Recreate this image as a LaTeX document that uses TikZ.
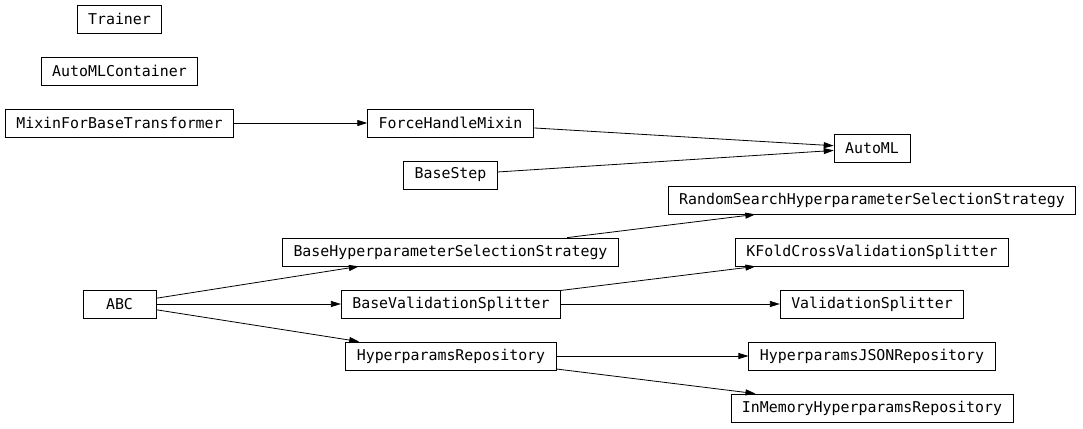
\documentclass[tikz,border=0pt]{standalone}
\usepackage{fontspec}
\setmonofont{DejaVu Sans Mono}
\usetikzlibrary{arrows.meta}

\tikzset{
	cls/.style={draw, line width=0.8pt, inner xsep=11pt, inner ysep=0pt, minimum height=28pt, font=\fontsize{14.9}{16}\ttfamily},
	inh/.style={line width=0.8pt, -{Triangle[length=10pt,width=6pt]}}
}

\begin{document}
\begin{tikzpicture}[x=1pt,y=-1pt]
	\useasboundingbox (0,0) rectangle (1083,428);
	\node[cls] (trainer) at (119.5,19) {Trainer};
	\node[cls] (container) at (119.5,71) {AutoMLContainer};
	\node[cls] (mixin) at (119.5,123) {MixinForBaseTransformer};
	\node[cls] (force) at (450.5,123) {ForceHandleMixin};
	\node[cls] (step) at (450.5,175) {BaseStep};
	\node[cls] (automl) at (872,148) {AutoML};
	\node[cls] (random) at (872,200) {RandomSearchHyperparameterSelectionStrategy};
	\node[cls] (hpstrat) at (450.5,252) {BaseHyperparameterSelectionStrategy};
	\node[cls] (kfold) at (872,252) {KFoldCrossValidationSplitter};
	\node[cls, minimum width=73pt] (abc) at (119.5,304) {ABC};
	\node[cls] (basesplit) at (451,304) {BaseValidationSplitter};
	\node[cls] (valsplit) at (872,304) {ValidationSplitter};
	\node[cls] (repo) at (451,356) {HyperparamsRepository};
	\node[cls] (jsonrepo) at (872,356) {HyperparamsJSONRepository};
	\node[cls] (memrepo) at (872,408) {InMemoryHyperparamsRepository};

	\draw[inh] (mixin) -- (force);
	\draw[inh] (force) -- (automl);
	\draw[inh] (step) -- (automl);
	\draw[inh] (hpstrat) -- (random);
	\draw[inh] (abc) -- (hpstrat);
	\draw[inh] (abc) -- (basesplit);
	\draw[inh] (abc) -- (repo);
	\draw[inh] (basesplit) -- (kfold);
	\draw[inh] (basesplit) -- (valsplit);
	\draw[inh] (repo) -- (jsonrepo);
	\draw[inh] (repo) -- (memrepo);
\end{tikzpicture}
\end{document}
